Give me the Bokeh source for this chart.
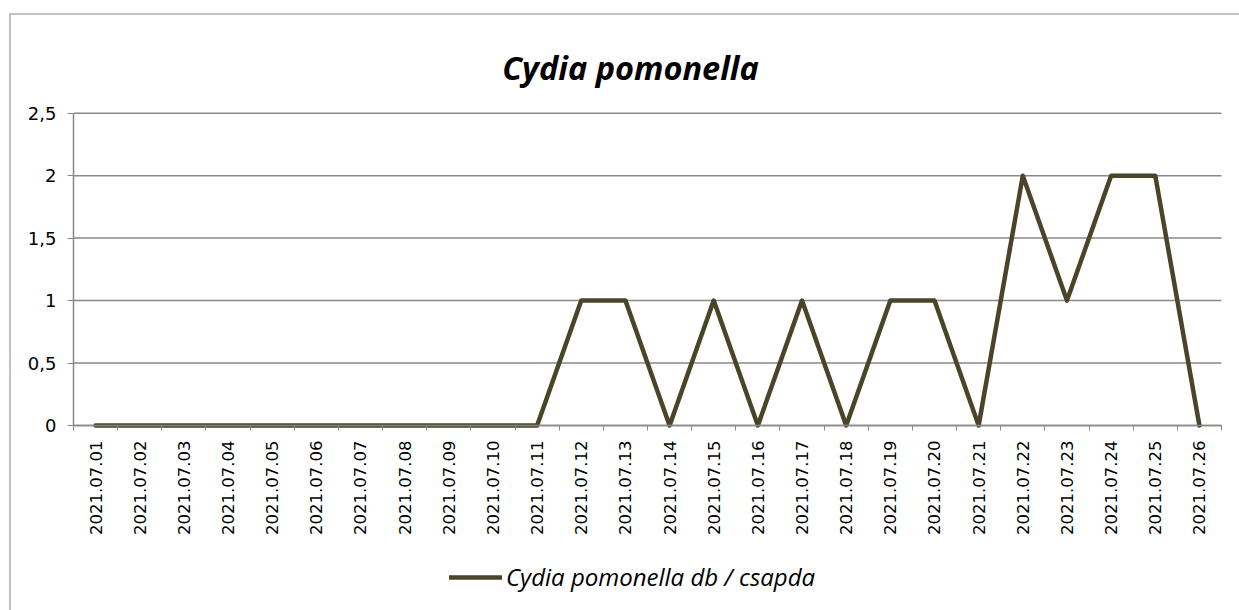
from bokeh.plotting import figure
from bokeh.models import FixedTicker, Legend, LegendItem, ColumnDataSource, Range1d, Span, Label
from bokeh.embed import file_html
from bokeh.resources import INLINE
import math

dates = ["2021.07.01", "2021.07.02", "2021.07.03", "2021.07.04", "2021.07.05",
         "2021.07.06", "2021.07.07", "2021.07.08", "2021.07.09", "2021.07.10",
         "2021.07.11", "2021.07.12", "2021.07.13", "2021.07.14", "2021.07.15",
         "2021.07.16", "2021.07.17", "2021.07.18", "2021.07.19", "2021.07.20",
         "2021.07.21", "2021.07.22", "2021.07.23", "2021.07.24", "2021.07.25",
         "2021.07.26"]
counts = [0, 0, 0, 0, 0, 0, 0, 0, 0, 0, 0, 1, 1, 0, 1, 0, 1, 0, 1, 1, 0, 2, 1, 2, 2, 0]
y_ticks = [0, 0.5, 1, 1.5, 2, 2.5]
y_tick_labels = ["0", "0,5", "1", "1,5", "2", "2,5"]
series_name = "Cydia pomonella db / csapda"
title_text = "Cydia pomonella"

LINE = "#4a4429"
GRID = "#898989"
BORDER = "#878787"

n = len(dates)
xs = list(range(n))
src = ColumnDataSource(dict(x=xs, y=counts))
grid_src = ColumnDataSource(dict(x0=[-0.5] * len(y_ticks), x1=[n - 0.5] * len(y_ticks),
                                 y=y_ticks))

# The frame covers the whole chart area; axes are placed at fixed data locations.
X_START, X_END = -1.9495, 25.9077
Y_START, Y_END = -1.4810, 3.2981
p = figure(width=1239, height=610, output_backend="svg", toolbar_location=None,
           x_range=Range1d(X_START, X_END), y_range=Range1d(Y_START, Y_END),
           min_border_left=9, min_border_right=0, min_border_top=13, min_border_bottom=0)
p.outline_line_color = None
p.background_fill_color = "white"
p.border_fill_color = "white"

# chart border (left and top edges visible)
p.add_layout(Span(location=X_START, dimension="height", line_color=BORDER, line_width=2))
p.add_layout(Span(location=Y_END, dimension="width", line_color=BORDER, line_width=2))

p.add_layout(Label(x=12.115, y=2.868, text=title_text, text_align="center",
                   text_baseline="alphabetic", text_font="Open Sans",
                   text_font_style="bold italic", text_font_size="32.5px",
                   text_color="black"))

# horizontal gridlines limited to the plot area
p.xgrid.grid_line_color = None
p.ygrid.grid_line_color = None
p.segment(x0="x0", x1="x1", y0="y", y1="y", source=grid_src,
          line_color=GRID, line_width=1.5)

r = p.line("x", "y", source=src, line_color=LINE, line_width=4.5,
           line_join="round", line_cap="round")

# x axis
xa = p.xaxis[0]
xa.fixed_location = 0
xa.bounds = (-0.5, n - 0.5)
xa.ticker = FixedTicker(ticks=xs, minor_ticks=[i - 0.5 for i in range(n + 1)])
xa.major_label_overrides = {i: d for i, d in enumerate(dates)}
xa.major_label_orientation = math.pi / 2
xa.major_tick_out = 0
xa.major_tick_in = 0
xa.minor_tick_out = 5
xa.minor_tick_in = 0
xa.minor_tick_line_color = GRID
xa.axis_line_color = GRID
xa.axis_line_width = 1.5
xa.major_label_text_font = "DejaVu Sans"
xa.major_label_text_font_size = "16.5px"
xa.major_label_text_color = "black"
xa.major_label_standoff = 10

ya = p.yaxis[0]
ya.fixed_location = -0.5
ya.ticker = FixedTicker(ticks=y_ticks)
ya.bounds = (0, 2.5)
ya.major_label_overrides = {t: l for t, l in zip(y_ticks, y_tick_labels)}
ya.major_tick_out = 6
ya.major_tick_in = 0
ya.minor_tick_out = 0
ya.minor_tick_in = 0
ya.major_tick_line_color = GRID
ya.axis_line_color = GRID
ya.axis_line_width = 1.5
ya.major_label_text_font = "DejaVu Sans"
ya.major_label_text_font_size = "18px"
ya.major_label_text_color = "black"
ya.major_label_standoff = 11

legend = Legend(items=[LegendItem(label=series_name, renderers=[r])],
                location=(440, 17), orientation="horizontal",
                label_text_font="Open Sans", label_text_font_style="italic",
                label_text_font_size="24px", label_text_color="black",
                glyph_width=53, glyph_height=20, label_standoff=4,
                padding=0, margin=0, border_line_color=None,
                background_fill_alpha=0)
p.add_layout(legend)

open("out.html", "w").write(file_html(p, INLINE))
